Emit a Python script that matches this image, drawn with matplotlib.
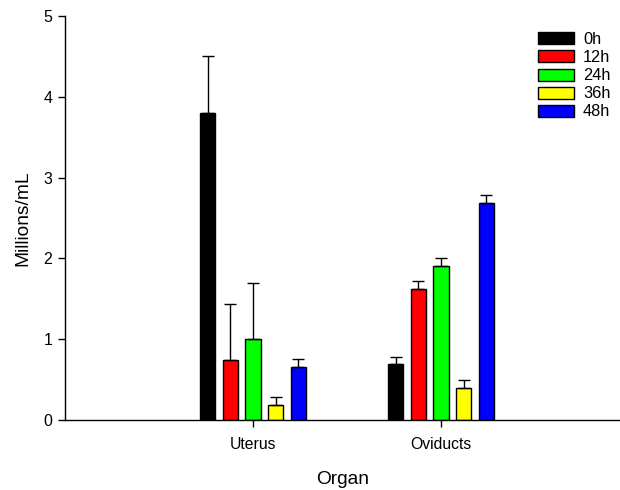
import matplotlib.pyplot as plt
import numpy as np

plt.rcParams['font.family'] = ['Liberation Sans', 'DejaVu Sans']

# data
organs = ['Uterus', 'Oviducts']
times = ['0h', '12h', '24h', '36h', '48h']
colors = ['#000000', '#ff0000', '#00ff00', '#ffff00', '#0000ff']

uterus_mean = [3.80, 0.74, 1.00, 0.19, 0.66]
uterus_err = [0.70, 0.70, 0.70, 0.10, 0.09]
oviducts_mean = [0.69, 1.62, 1.91, 0.39, 2.68]
oviducts_err = [0.09, 0.10, 0.10, 0.11, 0.10]

means = np.array([uterus_mean, oviducts_mean])
errs = np.array([uterus_err, oviducts_err])

fig = plt.figure(figsize=(6.2, 4.9), dpi=100)
ax = fig.add_axes([65/620, 70/490, 555/620, 404/490])

x = np.array([1, 2])
width = 0.08
pitch = 0.12

for i, t in enumerate(times):
    xi = x + (i - 2) * pitch
    ax.bar(xi, means[:, i], width=width, color=colors[i], edgecolor='black',
           linewidth=1, label=t, zorder=2)
    ax.errorbar(xi, means[:, i], yerr=[np.zeros(2), errs[:, i]], fmt='none',
                ecolor='black', elinewidth=1, capsize=4.3, capthick=1, zorder=3)

ax.set_xlim(0, 555/188)
ax.set_ylim(0, 5)
ax.set_yticks([0, 1, 2, 3, 4, 5])
ax.set_xticks(x)
ax.set_xticklabels(organs)

ax.spines['top'].set_visible(False)
ax.spines['right'].set_visible(False)
ax.spines['left'].set_linewidth(1)
ax.spines['bottom'].set_linewidth(1)
ax.tick_params(axis='y', direction='out', length=5, width=1, pad=4, labelsize=11.5)
ax.tick_params(axis='x', direction='out', length=5, width=1, pad=7, labelsize=11.3)

ax.set_ylabel('Millions/mL', fontsize=13.8, labelpad=9)
ax.set_xlabel('Organ', fontsize=13.8, labelpad=14)

ax.legend(loc='upper left', bbox_to_anchor=(538/620, 1 - 32/490),
          bbox_transform=fig.transFigure, frameon=False, fontsize=11.8,
          handlelength=2.2, handleheight=0.75, handletextpad=0.55,
          labelspacing=0.19, borderpad=0, borderaxespad=0)

fig.savefig('out.png', dpi=100)
